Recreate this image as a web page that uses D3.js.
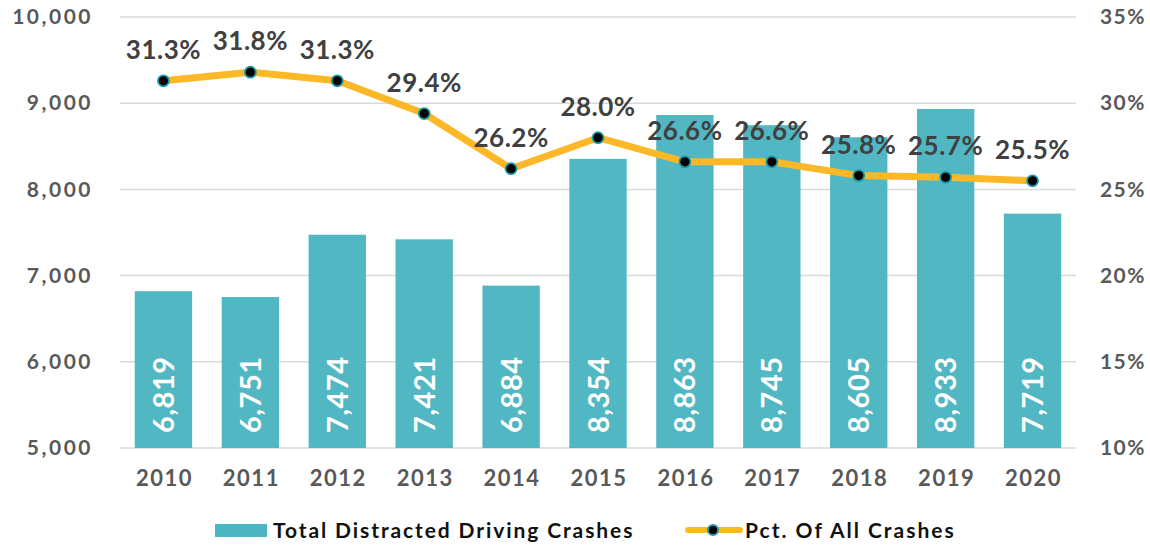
<!DOCTYPE html>
<html>
<head>
<meta charset="utf-8">
<script src="https://cdn.jsdelivr.net/npm/d3@7"></script>
<style>
  body { margin: 0; background: #fff; }
  text { font-family: Lato, "Open Sans", sans-serif; font-weight: bold; }
</style>
</head>
<body>
<svg width="1150" height="547"></svg>
<script>
const years = ['2010', '2011', '2012', '2013', '2014', '2015', '2016', '2017', '2018', '2019', '2020'];
const crashes = [6819, 6751, 7474, 7421, 6884, 8354, 8863, 8745, 8605, 8933, 7719];
const pct = [31.3, 31.8, 31.3, 29.4, 26.2, 28.0, 26.6, 26.6, 25.8, 25.7, 25.5];
const leftTicks = [5000, 6000, 7000, 8000, 9000, 10000];
const rightTicks = [10, 15, 20, 25, 30, 35];

const svg = d3.select('svg');
const plotLeft = 120;
const plotRight = 1076;
const plotTop = 17;
const plotBottom = 448;

const x = d3.scaleBand().domain(years).range([plotLeft, plotRight]).paddingInner(0.34).paddingOuter(0.17);
const yL = d3.scaleLinear().domain([5000, 10000]).range([plotBottom, plotTop]);
const yR = d3.scaleLinear().domain([10, 35]).range([plotBottom, plotTop]);
const cx = (d, i) => x(years[i]) + x.bandwidth() / 2;

// gridlines
svg.append('g')
  .selectAll('line')
  .data(leftTicks)
  .enter()
  .append('line')
    .attr('x1', plotLeft)
    .attr('x2', plotRight)
    .attr('y1', d => yL(d))
    .attr('y2', d => yL(d))
    .attr('stroke', '#d9d9d9')
    .attr('stroke-width', 1.5);

// left axis
const axisL = svg.append('g')
  .attr('transform', `translate(${96},0)`)
  .call(d3.axisLeft(yL).tickValues(leftTicks).tickSize(0).tickFormat(d3.format(',')));
axisL.select('.domain').remove();
axisL.selectAll('text')
  .attr('fill', '#595959')
  .style('font-size', '21px')
  .style('letter-spacing', '2.5px');

// right axis
const axisR = svg.append('g')
  .attr('transform', `translate(${1143},0)`)
  .call(d3.axisRight(yR).tickValues(rightTicks).tickSize(0).tickFormat(d => d + '%'));
axisR.select('.domain').remove();
axisR.selectAll('text')
  .attr('fill', '#595959')
  .attr('text-anchor', 'end')
  .style('font-size', '21px')
  .style('letter-spacing', '1.5px');

// x axis
const axisX = svg.append('g')
  .attr('transform', `translate(0,${plotBottom + 19})`)
  .call(d3.axisBottom(x).tickSize(0));
axisX.select('.domain').remove();
axisX.selectAll('text')
  .attr('fill', '#595959')
  .attr('dx', '1px')
  .style('font-size', '22px')
  .style('letter-spacing', '1.5px');

// bars
svg.append('g')
  .selectAll('rect')
  .data(crashes)
  .enter()
  .append('rect')
    .attr('x', (d, i) => x(years[i]))
    .attr('width', x.bandwidth())
    .attr('y', d => yL(d))
    .attr('height', d => plotBottom - yL(d))
    .attr('fill', '#4bb5c1')
    .attr('fill-opacity', 0.97);

svg.append('g')
  .selectAll('text')
  .data(crashes)
  .enter()
  .append('text')
    .attr('transform', (d, i) => `translate(${cx(d, i) + 10.5},${plotBottom - 15}) rotate(-90)`)
    .attr('fill', '#fff')
    .style('font-size', '29px')
    .style('letter-spacing', '0.5px')
    .text(d => d3.format(',')(d));

// line
const line = d3.line()
  .x(cx)
  .y(d => yR(d));

svg.append('path')
  .datum(pct)
  .attr('d', line)
  .attr('fill', 'none')
  .attr('stroke', '#fdb827')
  .attr('stroke-width', 7)
  .attr('stroke-linejoin', 'round');

svg.append('g')
  .selectAll('circle')
  .data(pct)
  .enter()
  .append('circle')
    .attr('cx', cx)
    .attr('cy', d => yR(d))
    .attr('r', 5.5)
    .attr('fill', '#000')
    .attr('stroke', '#1a9aa6')
    .attr('stroke-width', 1.8);

svg.append('g')
  .selectAll('text')
  .data(pct)
  .enter()
  .append('text')
    .attr('x', cx)
    .attr('y', d => yR(d) - 22)
    .attr('text-anchor', 'middle')
    .attr('fill', '#404040')
    .style('font-size', '26px')
    .style('letter-spacing', '0.5px')
    .text(d => d.toFixed(1) + '%');

// legend
const legend = svg.append('g').attr('transform', 'translate(0,530)');
legend.append('rect')
  .attr('x', 215).attr('y', -6).attr('width', 52).attr('height', 13)
  .attr('fill', '#4bb5c1');
legend.append('text')
  .attr('x', 273).attr('y', 7.5)
  .attr('fill', '#111')
  .style('font-size', '21px')
  .style('letter-spacing', '1.9px')
  .text('Total Distracted Driving Crashes');
legend.append('line')
  .attr('x1', 688).attr('x2', 740).attr('y1', 0).attr('y2', 0)
  .attr('stroke', '#fdb827').attr('stroke-width', 6)
  .attr('stroke-linecap', 'round');
legend.append('circle')
  .attr('cx', 713).attr('cy', 0).attr('r', 5)
  .attr('fill', '#000').attr('stroke', '#1a9aa6').attr('stroke-width', 2);
legend.append('text')
  .attr('x', 745).attr('y', 7.5)
  .attr('fill', '#111')
  .style('font-size', '21px')
  .style('letter-spacing', '2px')
  .text('Pct. Of All Crashes');
</script>
</body>
</html>
